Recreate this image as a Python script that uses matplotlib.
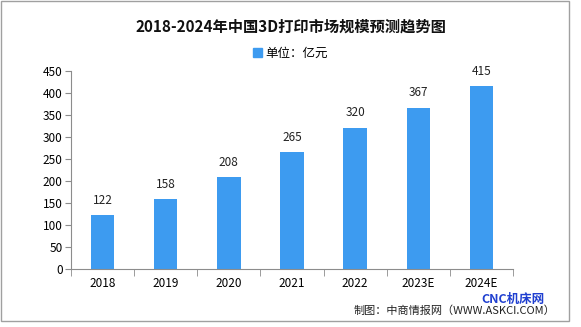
import numpy as np
import matplotlib.pyplot as plt
from matplotlib.patches import Rectangle, Patch

plt.rcParams['font.family'] = ['Noto Sans CJK SC', 'DejaVu Sans']

years = ['2018', '2019', '2020', '2021', '2022', '2023E', '2024E']
market_size = [122, 158, 208, 265, 320, 367, 415]
y_ticks = [0, 50, 100, 150, 200, 250, 300, 350, 400, 450]

bar_color = '#3D9BF0'
axis_gray = '#8C8C8C'

fig = plt.figure(figsize=(5.81, 3.27), dpi=100)
ax = fig.add_axes([71 / 581, 1 - 269 / 327, 442 / 581, 198 / 327])

x = np.arange(len(years))
bars = ax.bar(x, market_size, width=0.37, color=bar_color)
for xi, val in zip(x, market_size):
    ax.text(xi, val + 20, str(val), ha='center', va='bottom', fontsize=8.5, color='#222222')

ax.set_xlim(-0.5, len(years) - 0.5)
ax.set_ylim(0, 450)
ax.set_yticks(y_ticks)
ax.set_yticklabels([str(t) for t in y_ticks], fontsize=8.5)
ax.set_xticks(x)
ax.set_xticklabels(years, fontsize=8.5)
ax.set_xticks(np.arange(-0.5, len(years)), minor=True)
ax.tick_params(axis='x', which='major', length=0, pad=6)
ax.tick_params(axis='x', which='minor', length=5, color=axis_gray, direction='out')
ax.tick_params(axis='y', length=4, color=axis_gray, pad=2)

for side in ['top', 'right']:
    ax.spines[side].set_visible(False)
for side in ['left', 'bottom']:
    ax.spines[side].set_color(axis_gray)

fig.text(0.5, 1 - 27 / 327, '2018-2024年中国3D打印市场规模预测趋势图', ha='center', va='center',
         fontsize=11, fontweight='bold', color='#111111')
fig.legend(handles=[Patch(color=bar_color)], labels=['单位：亿元'], loc='center',
           bbox_to_anchor=(0.5, 1 - 53 / 327), frameon=False, fontsize=9,
           handlelength=0.7, handleheight=0.7, handletextpad=0.3)

fig.text(545 / 581, 1 - 299 / 327, 'CNC机床网', ha='right', va='center',
         fontsize=9, fontweight='bold', color='#1F3FD0')
fig.text(555 / 581, 1 - 311 / 327, '制图：中商情报网（WWW.ASKCI.COM）', ha='right', va='center',
         fontsize=8, color='#222222')

fig.patches.append(Rectangle((1 / 581, 1 - 321 / 327), 568 / 581, 320 / 327,
                             transform=fig.transFigure, fill=False,
                             edgecolor='#A0A0A0', linewidth=1))

fig.savefig('out.png', dpi=100)
